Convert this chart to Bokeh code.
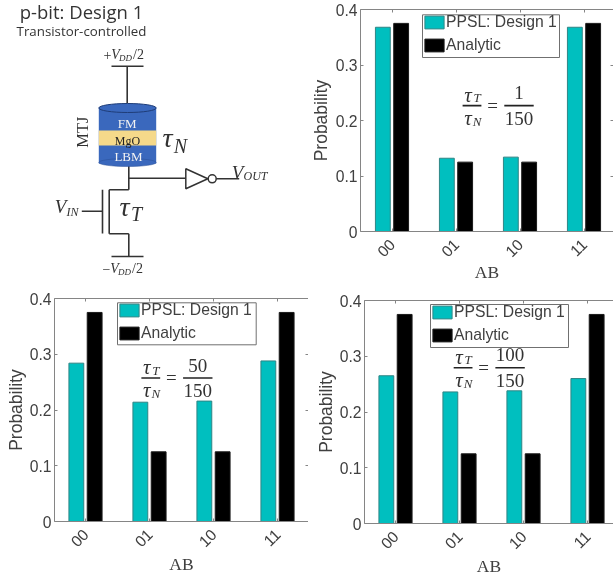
from math import pi
from bokeh.plotting import figure
from bokeh.models import (Range1d, LinearAxis, FixedTicker, Legend, LegendItem,
                          ColumnDataSource)
from bokeh.core.properties import value
from bokeh.transform import dodge
from bokeh.embed import file_html
from bokeh.resources import INLINE

# ---------- data ----------
categories = ["00", "01", "10", "11"]
analytic = [0.375, 0.125, 0.125, 0.375]
ppsl_1_150 = [0.368, 0.132, 0.134, 0.368]
ppsl_50_150 = [0.284, 0.214, 0.216, 0.288]
ppsl_100_150 = [0.265, 0.236, 0.238, 0.260]
y_ticks = [0, 0.1, 0.2, 0.3, 0.4]
y_labels = {0: "0", 0.1: "0.1", 0.2: "0.2", 0.3: "0.3", 0.4: "0.4"}
x_pos = [1, 2, 3, 4]

CYAN = "#00bfbf"
EDGE = "#2f8585"
AXC = "#858585"
TXT = "#404040"
SERIF = "Liberation Serif"


def place(left, top):
    return {"position": "fixed", "left": f"{left}px", "top": f"{top}px"}


def chart(series, numer, pos, frame_left, frame_top, frame_w, frame_h, fig_w, fig_h,
          x_start, x_end, legend_box, frac_pos, right_axis, ylabel_standoff, xlabel_standoff):
    p = figure(width=fig_w, height=fig_h, output_backend="svg", toolbar_location=None,
               x_range=Range1d(x_start, x_end), y_range=Range1d(0, 0.4),
               min_border_left=frame_left, min_border_top=frame_top,
               min_border_right=0, min_border_bottom=fig_h - frame_top - frame_h,
               frame_width=frame_w, frame_height=frame_h,
               x_axis_type=None, y_axis_type=None, outline_line_color=None,
               background_fill_color="white", border_fill_color=None,
               styles=place(*pos))
    p.grid.visible = False

    xa = LinearAxis(ticker=FixedTicker(ticks=x_pos),
                    major_label_overrides={i + 1: c for i, c in enumerate(categories)})
    ya = LinearAxis(ticker=FixedTicker(ticks=y_ticks), major_label_overrides=y_labels)
    xa.axis_label = "AB"
    xa.axis_label_text_font = SERIF
    xa.axis_label_text_font_style = "normal"
    xa.axis_label_text_font_size = "17.5px"
    xa.axis_label_text_color = TXT
    xa.axis_label_standoff = xlabel_standoff
    xa.major_label_orientation = pi / 4
    xa.major_label_standoff = 10
    ya.axis_label = "Probability"
    ya.axis_label_text_font = "Liberation Sans"
    ya.axis_label_text_font_style = "normal"
    ya.axis_label_text_font_size = "17.5px"
    ya.axis_label_text_color = TXT
    ya.axis_label_standoff = ylabel_standoff
    ya.major_label_standoff = 3
    for a in (xa, ya):
        a.major_label_text_font = "Liberation Sans"
        a.major_label_text_font_size = "15.7px"
        a.major_label_text_color = TXT
        a.axis_line_color = AXC
        a.major_tick_line_color = AXC
        a.major_tick_in = 3
        a.major_tick_out = 0
        a.minor_tick_line_color = None
    p.add_layout(xa, "below")
    p.add_layout(ya, "left")

    top = LinearAxis(ticker=FixedTicker(ticks=x_pos), axis_line_color=AXC,
                     major_tick_line_color=AXC, major_tick_in=3, major_tick_out=0,
                     minor_tick_line_color=None, major_label_overrides={t: "" for t in x_pos},
                     major_label_text_font_size="1px", major_label_standoff=0)
    p.add_layout(top, "above")
    if right_axis:
        ra = LinearAxis(ticker=FixedTicker(ticks=y_ticks), major_tick_line_color=AXC,
                        major_tick_in=3, major_tick_out=0, minor_tick_line_color=None,
                        axis_line_color=AXC if right_axis == "line" else None,
                        major_label_overrides={t: "" for t in y_ticks},
                        major_label_text_font_size="1px", major_label_standoff=0)
        p.add_layout(ra, "right")

    # legend box: its frame is drawn first, so that the texts and the legend lie over it
    bx, by, bw, bh = legend_box   # pixels from the frame's lower-left corner
    ux = (x_end - x_start) / frame_w
    uy = 0.4 / frame_h
    p.quad(left=[x_start + bx * ux], right=[x_start + (bx + bw) * ux],
           bottom=[by * uy], top=[(by + bh) * uy],
           fill_color="white", line_color="#707070", line_width=1)

    src = ColumnDataSource(dict(x=x_pos, ppsl=series, analytic=analytic))
    off, w = 0.143, 0.232
    b1 = p.vbar(x=dodge("x", -off), top="ppsl", bottom=0, width=w, source=src,
                fill_color=CYAN, line_color=EDGE, line_width=1)
    b2 = p.vbar(x=dodge("x", off), top="analytic", bottom=0, width=w, source=src,
                fill_color="black", line_color="#1a1a1a", line_width=1)

    leg = Legend(items=[LegendItem(label="PPSL: Design 1", renderers=[b1]),
                        LegendItem(label="Analytic", renderers=[b2])],
                 location=(bx, round(by + (bh - 37) / 2)), orientation="vertical",
                 glyph_width=24, glyph_height=16, label_standoff=0, spacing=5,
                 padding=0, margin=0, border_line_color=None,
                 background_fill_alpha=0, label_text_font="Liberation Sans",
                 label_text_font_size="15.7px", label_text_color=TXT,
                 label_height=13, label_text_line_height=1.0)
    p.add_layout(leg, "center")

    # tau_T / tau_N = n / 150
    sx, sy = 64.0, 558.0   # px per data unit
    fx, fy = frac_pos
    X = lambda d: fx + d / sx
    Y = lambda d: fy - d / sy
    p.segment([X(-9.4), X(32.3)], [Y(0), Y(0)], [X(9.4), X(61.7)], [Y(0), Y(0)],
              line_color="#222222", line_width=1.6)
    tf = value(SERIF)
    ital = dict(text_font=tf, text_font_style="italic", text_align="center",
                text_baseline="middle", text_color="#333333")
    reg = dict(text_font=tf, text_align="center", text_baseline="middle", text_color="#333333")
    p.text([X(-4)], [Y(-11)], ["τ"], text_font_size="21px", **ital)
    p.text([X(5)], [Y(-8)], ["T"], text_font_size="13px", **ital)
    p.text([X(-4)], [Y(12)], ["τ"], text_font_size="21px", **ital)
    p.text([X(5)], [Y(16)], ["N"], text_font_size="13px", **ital)
    p.text([X(20.5)], [Y(0)], ["="], text_font_size="19px", **reg)
    p.text([X(47)], [Y(-13)], [numer], text_font_size="19px", **reg)
    p.text([X(47)], [Y(13)], ["150"], text_font_size="19px", **reg)
    return p


# ---------- schematic (drawn in page pixels) ----------
wires_x = [[111, 143], [126.7, 126.7], [128.3, 128.3], [128.3, 185.3], [215.7, 238.7],
           [108.7, 128.3], [108.7, 108.7], [108.7, 128.3], [102, 102], [81.3, 102],
           [128.3, 128.3], [111, 143]]
wires_y = [[65.7, 65.7], [65.7, 103], [163, 189.3], [177.7, 177.7], [178.3, 178.3],
           [189.3, 189.3], [189.3, 233.3], [233.3, 233.3], [189.3, 233], [210.7, 210.7],
           [233.3, 256], [256, 256]]

s = figure(width=300, height=283, output_backend="svg", toolbar_location=None,
           x_range=Range1d(0, 300), y_range=Range1d(283, 0),
           x_axis_type=None, y_axis_type=None, min_border=0, outline_line_color=None,
           border_fill_color=None, background_fill_color=None, styles=place(0, 0))
s.grid.visible = False
BLUE = "#3a68bd"
YEL = "#f5d98a"
DK = "#2a4f95"
s.multi_line(wires_x, wires_y, line_color="#333333", line_width=1.6)
s.rect([127], [135], [57.4], [56], fill_color=BLUE, line_color=None)
s.ellipse([127], [162], [57.4], [8], fill_color=BLUE, line_color=DK, line_width=0.5)
s.rect([127], [137.5], [57.4], [15], fill_color=YEL, line_color=None)
s.ellipse([127], [107.5], [57.4], [9], fill_color=BLUE, line_color="#1f3d78", line_width=1)
s.patch([185.3, 185.3, 207.3], [168.3, 188.3, 178.3], fill_color="white", line_color="#333333", line_width=1.5)
s.circle([211.7], [178.3], radius=4, fill_color="white", line_color="#333333", line_width=1.5)


def lab(x, y, t, size, color="#333333", style="normal", font=SERIF, angle=0):
    s.text([x], [y], [t], text_font=value(font), text_font_size=size, text_color=color,
           text_font_style=style, text_align="center", text_baseline="middle", angle=angle)


lab(81, 11, "p-bit: Design 1", "18.5px", "#333333", font="Open Sans")
lab(81, 30, "Transistor-controlled", "13.3px", "#333333", font="Open Sans")
lab(126.7, 122.7, "FM", "13px", "#f2f2f2")
lab(127, 140, "MgO", "12px", "#222222")
lab(128, 155.7, "LBM", "13px", "#f2f2f2")
lab(81.7, 131.7, "MTJ", "16.5px", "#333333", angle=pi / 2)
# math labels, piece by piece
lab(167, 137, "τ", "28px", style="italic")
lab(180, 145, "N", "20px", style="italic")
lab(124, 206, "τ", "28px", style="italic")
lab(136, 213, "T", "20px", style="italic")
lab(60, 206, "V", "19px", style="italic")
lab(72, 211, "IN", "12px", style="italic")
lab(237, 172, "V", "19px", style="italic")
lab(255, 175, "OUT", "12px", style="italic")
lab(107, 54, "+", "14px")
lab(115, 54, "V", "14px", style="italic")
lab(125, 57, "DD", "9px", style="italic")
lab(138, 54, "/2", "14px")
lab(106, 268, "−", "14px")
lab(114, 268, "V", "14px", style="italic")
lab(124, 271, "DD", "9px", style="italic")
lab(137, 268, "/2", "14px")

# ---------- charts ----------
c1 = chart(ppsl_1_150, "1", (300, 0), 60, 9, 253, 222, 313, 283, 1 + (360 - 391.5) / 64, 1 + (613 - 391.5) / 64,
           (62, 174, 137, 42.7), (2.25, 0.2268), "ticks", 2, -3)
c2 = chart(ppsl_50_150, "50", (-6, 283), 60, 15, 254, 223, 320, 295, 1 + (54 - 85) / 64, 1 + (308 - 85) / 64,
           (63, 176.7, 138.7, 42), (2.02, 0.2574), "line", 1, -1)
c3 = chart(ppsl_100_150, "100", (304, 283), 60, 17, 249, 223, 309, 295, 1 + (364 - 395) / 64, 1 + (613 - 395) / 64,
           (66, 176, 138, 43), (2.056, 0.2794), None, 1, -1)

open("out.html", "w").write(file_html([s, c1, c2, c3], INLINE))
